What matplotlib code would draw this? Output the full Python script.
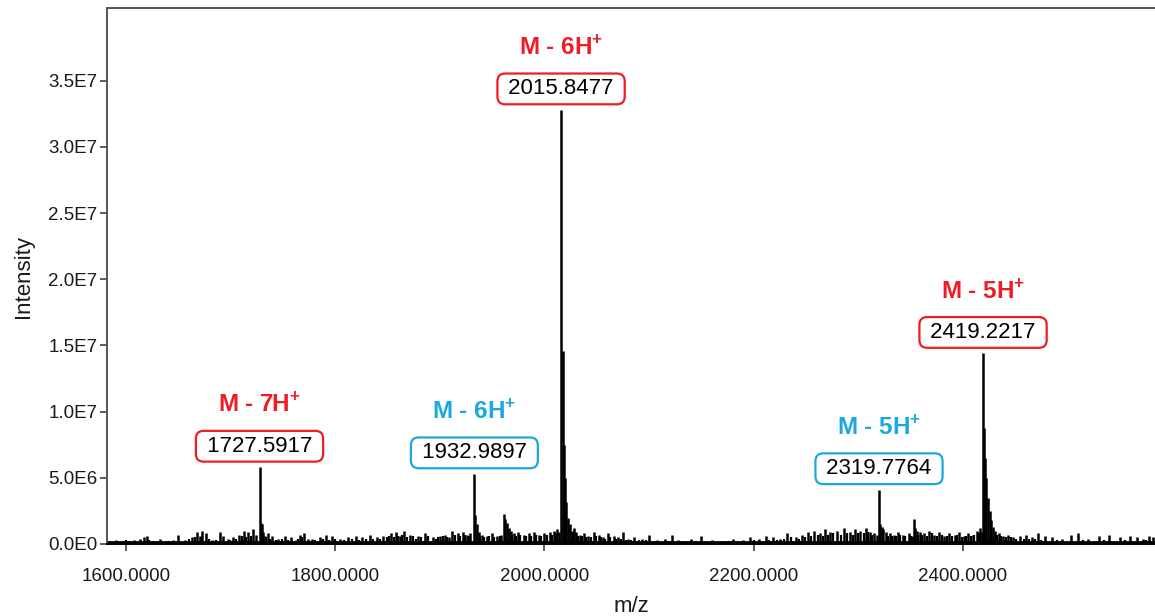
import numpy as np
import matplotlib
matplotlib.use("Agg")
import matplotlib.pyplot as plt
from matplotlib.ticker import FuncFormatter, MultipleLocator

plt.rcParams['font.family'] = ['Liberation Sans', 'DejaVu Sans']
plt.rcParams['mathtext.fontset'] = 'custom'
plt.rcParams['mathtext.rm'] = 'Liberation Sans'
plt.rcParams['mathtext.bf'] = 'Liberation Sans:bold'

# stick list: m/z and intensity
mz = [1584, 1590, 1596, 1603, 1608, 1613, 1617, 1620, 1626, 1632, 1638, 1645, 1650, 1656,
      1663, 1668, 1671, 1673, 1676, 1682, 1690, 1693, 1697, 1702, 1708, 1713, 1717, 1721, 1724,
      1727.59, 1729, 1730, 1731, 1733, 1736, 1740, 1745, 1752, 1758, 1762, 1766, 1770, 1774,
      1778, 1785, 1791, 1797, 1805, 1812, 1820, 1826, 1833, 1840, 1846, 1853, 1858, 1862,
      1866, 1871, 1879, 1886, 1893, 1900, 1905, 1909, 1912, 1917, 1922, 1926, 1929,
      1932.99, 1934, 1935.5, 1937, 1940, 1945, 1950, 1955, 1958, 1961, 1962.5, 1964, 1966,
      1968, 1971, 1975, 1980, 1985, 1990, 1995, 2000, 2005, 2009, 2012, 2014,
      2015.85, 2017.3, 2018.5, 2019.5, 2021, 2022.5, 2024, 2026, 2028, 2030, 2034, 2038,
      2042, 2047, 2052, 2056, 2061, 2066, 2070, 2075, 2080, 2086, 2093, 2100, 2108, 2115,
      2122, 2128, 2134, 2140, 2150, 2160, 2170, 2180, 2186, 2190, 2196, 2205, 2212, 2218,
      2225, 2232, 2240, 2246, 2252, 2258, 2263, 2268, 2273, 2280, 2286, 2292, 2297, 2302,
      2307, 2311, 2315, 2318,
      2319.78, 2321, 2322.5, 2324, 2326, 2330, 2334, 2338, 2343, 2348, 2351, 2353, 2354.5,
      2356, 2359, 2363, 2368, 2372, 2377, 2382, 2387, 2392, 2396, 2401, 2405, 2410, 2413,
      2416, 2418,
      2419.22, 2420.5, 2421.5, 2422.5, 2424, 2425.5, 2427, 2429, 2431, 2434, 2438, 2443,
      2448, 2455, 2460, 2466, 2472, 2478, 2485, 2495, 2503, 2510, 2520, 2530, 2540, 2550,
      2560, 2566, 2572, 2578, 2582]
intensity = [0.2e6, 0.3e6, 0.2e6, 0.2e6, 0.3e6, 0.4e6, 0.5e6, 0.6e6, 0.2e6, 0.4e6, 0.2e6, 0.3e6, 0.7e6, 0.3e6,
             0.5e6, 0.9e6, 0.6e6, 1.0e6, 0.8e6, 0.3e6, 0.9e6, 0.6e6, 0.4e6, 0.5e6, 0.7e6, 1.0e6, 0.9e6, 1.1e6, 0.7e6,
             5.8e6, 1.6e6, 1.5e6, 0.9e6, 0.6e6, 0.8e6, 0.6e6, 0.4e6, 0.6e6, 0.5e6, 0.3e6, 0.7e6, 0.8e6, 0.4e6,
             0.4e6, 0.5e6, 0.7e6, 0.6e6, 0.4e6, 0.5e6, 0.6e6, 0.5e6, 0.7e6, 0.5e6, 0.6e6, 0.8e6, 0.9e6, 0.6e6,
             1.0e6, 0.7e6, 0.6e6, 0.8e6, 0.5e6, 0.6e6, 0.7e6, 0.5e6, 1.0e6, 0.8e6, 0.9e6, 0.7e6, 0.8e6,
             5.3e6, 2.2e6, 1.5e6, 0.9e6, 0.7e6, 0.6e6, 0.8e6, 0.6e6, 0.7e6, 2.3e6, 1.9e6, 1.6e6, 1.2e6,
             1.0e6, 0.8e6, 0.9e6, 0.7e6, 0.8e6, 0.9e6, 0.7e6, 0.8e6, 0.9e6, 1.0e6, 1.1e6, 0.9e6,
             3.28e7, 1.46e7, 7.5e6, 5.0e6, 3.2e6, 2.0e6, 1.5e6, 1.0e6, 1.2e6, 0.9e6, 0.7e6, 0.8e6,
             0.6e6, 0.9e6, 0.7e6, 0.5e6, 0.8e6, 0.6e6, 0.5e6, 0.9e6, 0.4e6, 0.5e6, 0.4e6, 0.7e6, 0.3e6, 0.4e6,
             0.7e6, 0.3e6, 0.2e6, 0.4e6, 0.6e6, 0.3e6, 0.2e6, 0.4e6, 0.2e6, 0.3e6, 0.5e6, 0.4e6, 0.6e6, 0.5e6,
             0.4e6, 0.8e6, 0.5e6, 0.7e6, 0.9e6, 1.0e6, 0.8e6, 1.1e6, 0.9e6, 1.0e6, 1.2e6, 0.9e6, 1.1e6, 1.0e6,
             1.2e6, 0.9e6, 0.8e6, 0.7e6,
             4.1e6, 1.5e6, 1.3e6, 1.1e6, 0.9e6, 0.8e6, 0.7e6, 0.9e6, 0.7e6, 0.8e6, 0.6e6, 1.9e6, 1.2e6,
             1.0e6, 0.9e6, 0.8e6, 1.0e6, 0.7e6, 0.9e6, 0.6e6, 0.8e6, 0.7e6, 0.9e6, 0.6e6, 0.8e6, 0.7e6, 1.0e6,
             1.2e6, 0.9e6,
             1.44e7, 8.8e6, 6.5e6, 5.0e6, 3.5e6, 2.5e6, 1.8e6, 1.3e6, 1.0e6, 0.8e6, 0.6e6, 0.7e6,
             0.5e6, 0.6e6, 0.7e6, 0.5e6, 0.8e6, 0.6e6, 0.5e6, 0.4e6, 0.7e6, 0.8e6, 0.4e6, 0.6e6, 0.7e6, 0.5e6,
             0.6e6, 0.5e6, 0.4e6, 0.6e6, 0.5e6]

# low "grass" between the sticks above
noise_mz = [1600, 1622, 1641, 1660, 1666, 1679, 1686, 1699, 1705, 1711, 1715, 1719, 1734, 1738,
            1743, 1749, 1755, 1764, 1768, 1781, 1788, 1794, 1800, 1808, 1816, 1823, 1829, 1836,
            1843, 1849, 1851, 1856, 1860, 1864, 1869, 1874, 1877, 1882, 1889, 1896, 1898, 1903,
            1907, 1914, 1919, 1924, 1928, 1938, 1942, 1947, 1952, 1957, 1969, 1973, 1977, 1982,
            1987, 1992, 1997, 2002, 2007, 2011, 2027, 2032, 2036, 2040, 2044, 2049, 2054, 2058,
            2063, 2068, 2073, 2078, 2083, 2090, 2097, 2104, 2119, 2145, 2176, 2200, 2215, 2222,
            2229, 2236, 2243, 2249, 2255, 2261, 2266, 2271, 2276, 2283, 2289, 2295, 2300, 2305,
            2309, 2313, 2328, 2332, 2336, 2340, 2345, 2350, 2357, 2361, 2366, 2370, 2375, 2380,
            2385, 2390, 2394, 2399, 2403, 2408, 2411, 2415, 2433, 2436, 2441, 2446, 2451, 2458,
            2463, 2469, 2475, 2490, 2515, 2535, 2555, 2575]
noise_int = [0.3e6, 0.3e6, 0.2e6, 0.4e6, 0.5e6, 0.4e6, 0.3e6, 0.3e6, 0.4e6, 0.6e6, 0.5e6, 0.6e6, 0.5e6, 0.4e6,
             0.3e6, 0.4e6, 0.3e6, 0.4e6, 0.5e6, 0.3e6, 0.4e6, 0.3e6, 0.4e6, 0.3e6, 0.4e6, 0.3e6, 0.4e6, 0.4e6,
             0.4e6, 0.5e6, 0.6e6, 0.5e6, 0.6e6, 0.7e6, 0.5e6, 0.6e6, 0.4e6, 0.5e6, 0.6e6, 0.4e6, 0.5e6, 0.6e6,
             0.5e6, 0.7e6, 0.6e6, 0.7e6, 0.6e6, 0.6e6, 0.5e6, 0.6e6, 0.5e6, 0.6e6, 0.7e6, 0.6e6, 0.7e6, 0.6e6,
             0.6e6, 0.7e6, 0.6e6, 0.7e6, 0.7e6, 0.8e6, 0.8e6, 0.6e6, 0.6e6, 0.5e6, 0.5e6, 0.6e6, 0.5e6, 0.4e6,
             0.5e6, 0.4e6, 0.4e6, 0.3e6, 0.3e6, 0.3e6, 0.3e6, 0.2e6, 0.2e6, 0.2e6, 0.2e6, 0.3e6, 0.3e6, 0.3e6,
             0.4e6, 0.5e6, 0.4e6, 0.5e6, 0.6e6, 0.7e6, 0.6e6, 0.7e6, 0.8e6, 0.7e6, 0.8e6, 0.7e6, 0.8e6, 0.8e6,
             0.9e6, 0.7e6, 0.6e6, 0.6e6, 0.6e6, 0.7e6, 0.6e6, 0.6e6, 0.7e6, 0.7e6, 0.6e6, 0.8e6, 0.6e6, 0.7e6,
             0.6e6, 0.6e6, 0.7e6, 0.5e6, 0.6e6, 0.6e6, 0.7e6, 0.8e6, 0.7e6, 0.6e6, 0.5e6, 0.5e6, 0.4e6, 0.4e6,
             0.4e6, 0.4e6, 0.3e6, 0.3e6, 0.3e6, 0.3e6, 0.3e6, 0.3e6]

# labelled peaks
peak_mz = [1727.5917, 1932.9897, 2015.8477, 2319.7764, 2419.2217]
peak_int = [5.8e6, 5.3e6, 3.28e7, 4.1e6, 1.44e7]
peak_ion = ['M - 7H', 'M - 6H', 'M - 6H', 'M - 5H', 'M - 5H']
peak_col = ['#ee1c24', '#1ba8e0', '#ee1c24', '#1ba8e0', '#ee1c24']

fig = plt.figure(figsize=(11.55, 6.16), dpi=100)
ax = fig.add_axes([107/1155, 1 - 544/616, 1 - 107/1155, (544 - 8)/616])

ax.vlines(noise_mz, 0, noise_int, color='black', lw=1.6)
ax.vlines(mz, 0, intensity, color='black', lw=1.8)
ax.axhline(0.15e6, color='black', lw=2.0)

ax.set_xlim(1581.8, 2583.6)
ax.set_ylim(0, 4.05e7)
ax.xaxis.set_major_locator(MultipleLocator(200))
ax.set_yticks(np.arange(0, 3.6e7, 5e6))

def sci(v, pos):
    if v <= 0:
        return '0.0E0'
    e = int(np.floor(np.log10(v)))
    return f'{v / 10**e:.1f}E{e}'

ax.yaxis.set_major_formatter(FuncFormatter(sci))
ax.xaxis.set_major_formatter(FuncFormatter(lambda v, p: f'{v:.4f}'))
ax.tick_params(labelsize=13.5, length=5, width=1.2, color='#404040', labelcolor='#1a1a1a')
ax.tick_params(axis='y', pad=2)
ax.tick_params(axis='x', pad=12)

for s in ['left', 'top']:
    ax.spines[s].set_color('#555555'); ax.spines[s].set_linewidth(1.4)
ax.spines['bottom'].set_color('black'); ax.spines['bottom'].set_linewidth(1.4)
ax.spines['right'].set_visible(False)

ax.set_ylabel('Intensity', fontsize=16, color='#1a1a1a', labelpad=10)
ax.set_xlabel('m/z', fontsize=16, color='#1a1a1a', labelpad=8)

for x, h, ion, c in zip(peak_mz, peak_int, peak_ion, peak_col):
    ax.annotate(f' {x:.4f} ', (x, h), xytext=(0, 21), textcoords='offset pixels',
                ha='center', va='center', fontsize=16, color='black',
                bbox=dict(boxstyle='round,pad=0.22,rounding_size=0.35', fc='white', ec=c, lw=1.6))
    ax.annotate(ion + r'$^{\mathbf{+}}$', (x, h), xytext=(0, 62), textcoords='offset pixels',
                ha='center', va='center', fontsize=17.5, color=c, fontweight='bold')

fig.savefig('out.png', dpi=100)
